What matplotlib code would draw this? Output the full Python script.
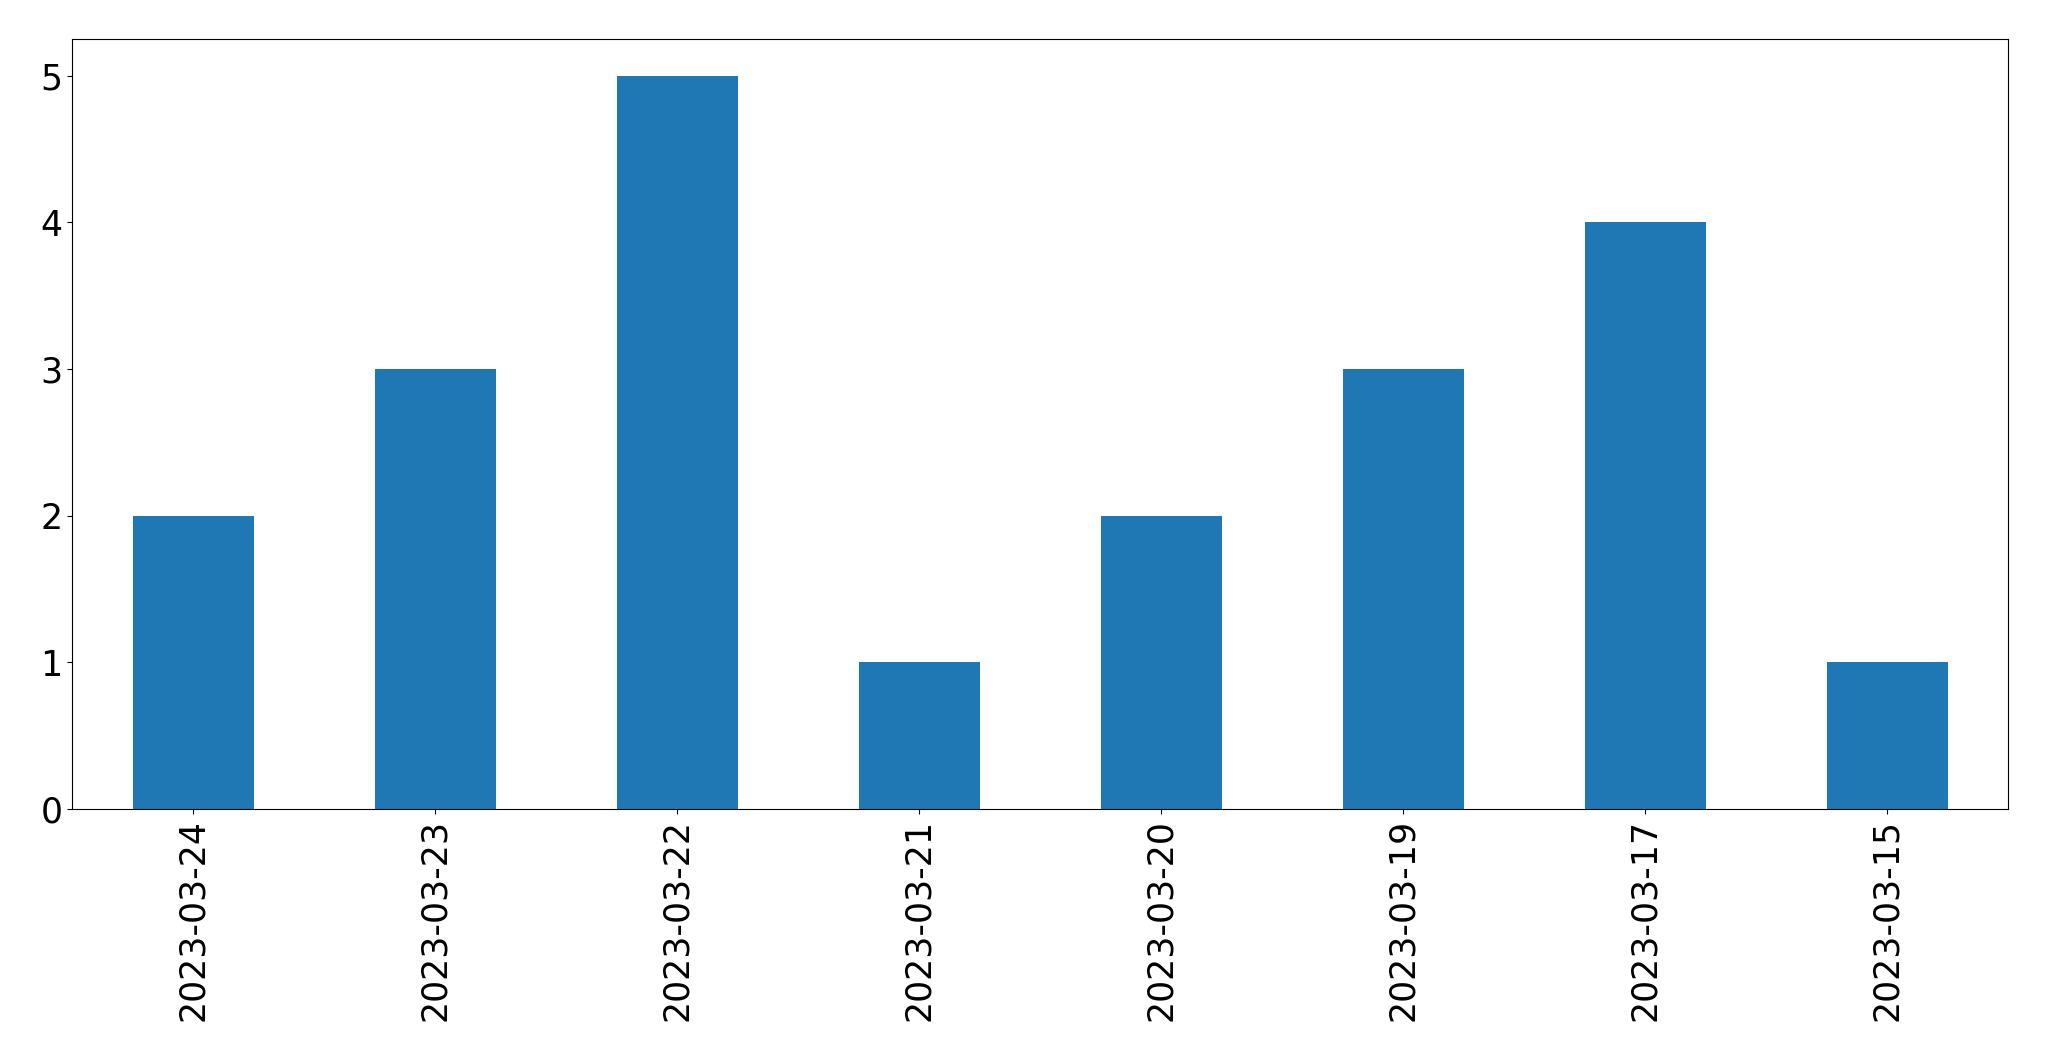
import pandas as pd
import matplotlib.pyplot as plt

dates = ['2023-03-24', '2023-03-23', '2023-03-22', '2023-03-21',
         '2023-03-20', '2023-03-19', '2023-03-17', '2023-03-15']
counts = [2, 3, 5, 1, 2, 3, 4, 1]

s = pd.Series(counts, index=dates)

fig = plt.figure(figsize=(20.49, 10.61), dpi=100)
ax = fig.add_axes([72 / 2049, 1 - 809 / 1061, (2008 - 72) / 2049, (809 - 39) / 1061])
s.plot.bar(ax=ax, color='#1f77b4')
ax.tick_params(axis='both', labelsize=25)
ax.set_yticks([0, 1, 2, 3, 4, 5])
fig.savefig('out.png', dpi=100)
